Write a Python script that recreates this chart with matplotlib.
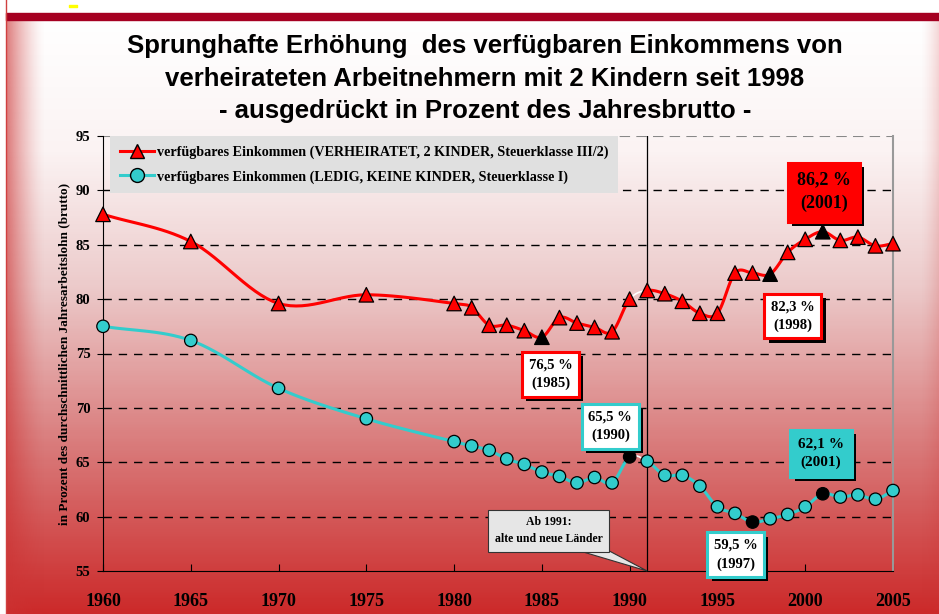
import numpy as np
import matplotlib.pyplot as plt
from matplotlib.colors import LinearSegmentedColormap
from matplotlib import patheffects as pe

# data
years_red = [1960, 1965, 1970, 1975, 1980, 1981, 1982, 1983, 1984, 1985, 1986, 1987, 1988, 1989,
             1990, 1991, 1992, 1993, 1994, 1995, 1996, 1997, 1998, 1999, 2000, 2001, 2002, 2003, 2004, 2005]
verheiratet = [87.8, 85.3, 79.6, 80.4, 79.6, 79.2, 77.6, 77.6, 77.1, 76.5, 78.3, 77.8, 77.4, 77.0,
               80.0, 80.8, 80.5, 79.8, 78.7, 78.7, 82.4, 82.4, 82.3, 84.3, 85.5, 86.2, 85.4, 85.7, 84.9, 85.1]
years_cyan = years_red
ledig = [77.5, 76.2, 71.8, 69.0, 66.9, 66.5, 66.1, 65.3, 64.8, 64.1, 63.7, 63.1, 63.6, 63.1,
         65.5, 65.1, 63.8, 63.8, 62.8, 60.9, 60.3, 59.5, 59.8, 60.2, 60.9, 62.1, 61.8, 62.0, 61.6, 62.4]
red_highlight = [1985, 1998, 2001]
cyan_highlight = [1990, 1997, 2001]
label_red = 'verfügbares Einkommen (VERHEIRATET, 2 KINDER, Steuerklasse III/2)'
label_cyan = 'verfügbares Einkommen (LEDIG, KEINE KINDER, Steuerklasse I)'
title_lines = ['Sprunghafte Erhöhung  des verfügbaren Einkommens von',
               'verheirateten Arbeitnehmern mit 2 Kindern seit 1998',
               '- ausgedrückt in Prozent des Jahresbrutto -']

RED = '#ff0000'
CYAN = '#33cccc'
SERIF = 'Liberation Serif'


def smooth(x, y, n=16):
    # catmull-rom style smoothing like the spreadsheet's "smoothed line"
    x = np.asarray(x, float); y = np.asarray(y, float)
    px = np.concatenate([[2*x[0]-x[1]], x, [2*x[-1]-x[-2]]])
    py = np.concatenate([[2*y[0]-y[1]], y, [2*y[-1]-y[-2]]])
    segs = []
    t = np.linspace(0, 1, n)
    for i in range(1, len(px)-2):
        def cr(p):
            p0, p1, p2, p3 = p[i-1], p[i], p[i+1], p[i+2]
            return 0.5*((2*p1) + (-p0+p2)*t + (2*p0-5*p1+4*p2-p3)*t**2 + (-p0+3*p1-3*p2+p3)*t**3)
        segs.append((cr(px), cr(py)))
    return segs


fig = plt.figure(figsize=(9.39, 6.14), dpi=100)

# background panel
bg = fig.add_axes([0, 0, 1, 1])
bg.set_xlim(0, 939); bg.set_ylim(614, 0); bg.axis('off')
cmap = LinearSegmentedColormap.from_list('bg', [(0, '#ffffff'), (0.22, '#fbf3f3'), (0.45, '#eccaca'),
                                                (0.72, '#d97a7a'), (1.0, '#cc2a2a')])
grad = np.linspace(0, 1, 300)[:, None]
bg.imshow(grad, cmap=cmap, extent=[6, 939, 614, 20], aspect='auto')
side = np.zeros((1, 60, 4))
side[..., 0] = 0.8; side[..., 1] = 0.2; side[..., 2] = 0.2
side[..., 3] = np.linspace(0.75, 0, 60)**1.5
bg.imshow(side, extent=[6, 46, 614, 20], aspect='auto')
side_r = side[:, ::-1].copy(); side_r[..., 3] *= 0.3
bg.imshow(side_r, extent=[920, 939, 614, 20], aspect='auto')
bg.fill_between([6, 939], 13, 20, color='#a50021')
bg.plot([6, 6], [0, 614], color='#d04040', lw=1)
bg.fill_between([69, 77], 5, 7, color='#ffff00')

for i, line in enumerate(title_lines):
    fig.text(485/939, 1 - (46 + 32.5*i)/614, line, ha='center', va='center', fontsize=18.5,
             fontweight='bold', family='Liberation Sans')

ax = fig.add_axes([103/939, 1 - 571/614, 790/939, (571-136)/614])
ax.patch.set_alpha(0)
ax.set_xlim(1960, 2005)
ax.set_ylim(55, 95)
ax.set_xticks(range(1960, 2006, 5))
ax.set_yticks(range(55, 96, 5))
for v in range(60, 95, 5):
    ax.axhline(v, color='black', lw=1, ls=(0, (6, 5)), zorder=1)
ax.axhline(95, color='#888888', lw=1.5, ls=(0, (5, 3)), zorder=1)
ax.axvline(1991, color='black', lw=0.9, zorder=1)
ax.spines['top'].set_visible(False)
ax.spines['right'].set_color('#999999')
ax.spines['right'].set_linewidth(1.5)
ax.tick_params(axis='x', direction='in', length=5, pad=16, labelsize=13)
ax.tick_params(axis='y', direction='out', length=4, pad=5, labelsize=10.5)
for lab in ax.get_xticklabels() + ax.get_yticklabels():
    lab.set_family(SERIF); lab.set_fontweight('bold')
ax.set_ylabel('in Prozent des durchschnittlichen Jahresarbeitslohn (brutto)', family=SERIF,
              fontweight='bold', fontsize=9.5, labelpad=4)


def draw_series(years, vals, color, marker, ms, highlight, label):
    segs = smooth(years, vals)
    for i, (sx, sy) in enumerate(segs):
        c = 'white' if years[i] == 1990 else color
        lw = 1.2 if years[i] == 1990 else 2.2
        ax.plot(sx, sy, color=c, lw=lw, zorder=3, solid_capstyle='round')
    fc = ['black' if y in highlight else color for y in years]
    ax.scatter(years, vals, marker=marker, s=ms, c=fc, edgecolors='black', linewidths=0.9, zorder=4,
               clip_on=False)
    ax.plot([], [], color=color, lw=2.2, marker=marker, ms=10, mfc=color, mec='black', label=label)


draw_series(years_red, verheiratet, RED, '^', 110, red_highlight, label_red)
draw_series(years_cyan, ledig, CYAN, 'o', 80, cyan_highlight, label_cyan)

leg = ax.legend(loc='upper left', bbox_to_anchor=(7/790, 1.0), borderaxespad=0, frameon=True,
                fancybox=False, facecolor='#e0e0e0', edgecolor='none', framealpha=1,
                prop={'family': SERIF, 'weight': 'bold', 'size': 10.2}, handlelength=2.4,
                labelspacing=0.75, borderpad=0.7, handletextpad=0.2)
leg.set_zorder(2)


def box(x, y, txt, fc, ec, size=10.5, pad=0.45):
    t = ax.text(x, y, txt, ha='center', va='center', family=SERIF, fontweight='bold', fontsize=size,
                linespacing=1.5, zorder=6,
                bbox=dict(boxstyle=f'square,pad={pad}', fc=fc, ec=ec, lw=2.2))
    t.get_bbox_patch().set_path_effects([pe.SimplePatchShadow(offset=(3, -3), shadow_rgbFace='black', alpha=1),
                                         pe.Normal()])


box(2001.06, 89.85, '86,2 %\n(2001)', RED, RED, size=13, pad=0.5)
box(1999.3, 78.45, '82,3 %\n(1998)', 'white', RED)
box(1985.5, 73.1, '76,5 %\n(1985)', 'white', RED)
box(1988.9, 68.3, '65,5 %\n(1990)', 'white', CYAN)
box(2000.9, 65.8, '62,1 %\n(2001)', CYAN, CYAN, size=11, pad=0.5)
box(1996.05, 56.5, '59,5 %\n(1997)', 'white', CYAN)

# callout with a wedge pointing at the 1991 break
ax.fill([1986.2, 1991, 1988.3], [57.3, 55, 57.3], fc='#e6e6e6', ec='#333333', lw=0.8, zorder=5,
        clip_on=False)
ax.text(1985.4, 58.7, 'Ab 1991:\nalte und neue Länder', ha='center', va='center', family=SERIF,
        fontweight='bold', fontsize=8.5, linespacing=1.6, zorder=6,
        bbox=dict(boxstyle='square,pad=0.55', fc='#e6e6e6', ec='#333333', lw=0.8))

fig.savefig('out.png', dpi=100)
